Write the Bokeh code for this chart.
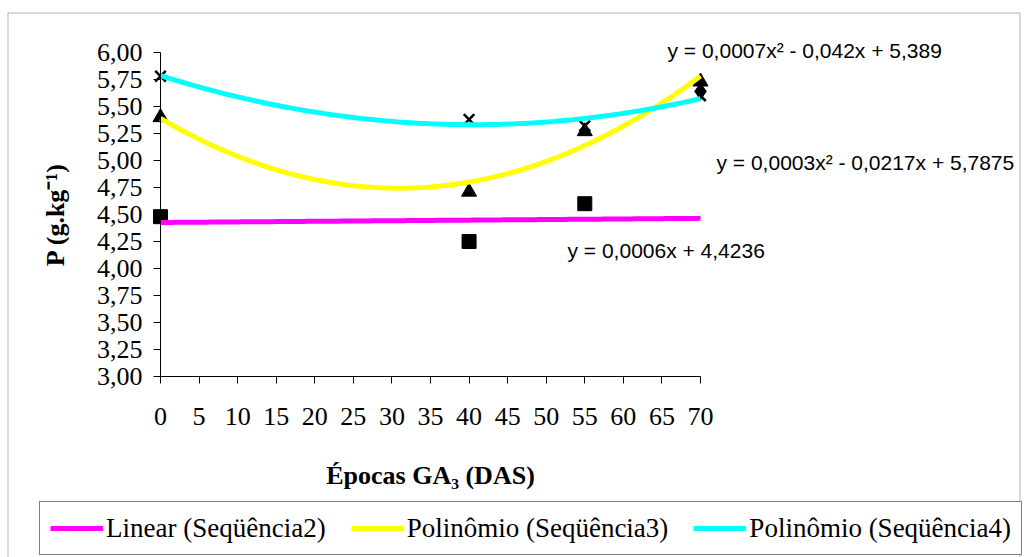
import numpy as np
from bokeh.plotting import figure
from bokeh.models import (Range1d, FixedTicker, Label, Legend, LegendItem,
                          BoxAnnotation)
from bokeh.embed import file_html
from bokeh.resources import INLINE

# ---- data ----
seq1_x = [70]
seq1_y = [5.64]
seq2_x = [0, 40, 55]
seq2_y = [4.48, 4.25, 4.60]
seq3_x = [0, 40, 55, 70]
seq3_y = [5.40, 4.71, 5.27, 5.73]
seq4_x = [0, 40, 55, 70]
seq4_y = [5.78, 5.38, 5.32, 5.60]

x_ticks = [0, 5, 10, 15, 20, 25, 30, 35, 40, 45, 50, 55, 60, 65, 70]
y_ticks = [3.0, 3.25, 3.5, 3.75, 4.0, 4.25, 4.5, 4.75, 5.0, 5.25, 5.5, 5.75, 6.0]
y_tick_labels = ["3,00", "3,25", "3,50", "3,75", "4,00", "4,25", "4,50",
                 "4,75", "5,00", "5,25", "5,50", "5,75", "6,00"]

x_title = "Épocas GA₃ (DAS)"
y_title = "P (g.kg⁻¹)"
eq_lin = "y = 0,0006x + 4,4236"
eq_s3 = "y = 0,0007x² - 0,042x + 5,389"
eq_s4 = "y = 0,0003x² - 0,0217x + 5,7875"
legend_labels = ["Linear (Seqüência2)", "Polinômio (Seqüência3)", "Polinômio (Seqüência4)"]

# ---- trendlines (least squares, like the spreadsheet) ----
xs = np.linspace(0, 70, 141)
lin = np.polyval(np.polyfit(seq2_x, seq2_y, 1), xs)
pol3 = np.polyval(np.polyfit(seq3_x, seq3_y, 2), xs)
pol4 = np.polyval(np.polyfit(seq4_x, seq4_y, 2), xs)

W, H = 1024, 557
X0_PX, X70_PX = 160, 700        # pixel of x=0 and x=70
Y6_PX, Y3_PX = 52, 376          # pixel of y=6 and y=3
px_x = (X70_PX - X0_PX) / 70.0
px_y = (Y3_PX - Y6_PX) / 3.0


def dx(px):
    return (px - X0_PX) / px_x


def dy(py):
    return 6 - (py - Y6_PX) / px_y


p = figure(width=W, height=H, x_range=Range1d(dx(0), dx(W)), y_range=Range1d(dy(H), dy(0)),
           output_backend="svg", toolbar_location=None,
           min_border_left=0, min_border_right=0, min_border_top=0, min_border_bottom=0)
p.grid.visible = False
p.outline_line_color = None
p.background_fill_color = "white"
p.border_fill_color = "white"

serif = "Liberation Serif"

xa = p.xaxis[0]
xa.fixed_location = 3
xa.bounds = (0, 70)
xa.ticker = FixedTicker(ticks=x_ticks, minor_ticks=[])
xa.major_tick_out = 7
xa.major_tick_in = 0
xa.minor_tick_out = 0
xa.minor_tick_in = 0
xa.axis_line_color = "black"
xa.major_tick_line_color = "black"
xa.major_label_text_font = serif
xa.major_label_text_font_size = "26px"
xa.major_label_text_color = "black"
xa.major_label_standoff = 24

ya = p.yaxis[0]
ya.fixed_location = 0
ya.bounds = (3, 6)
ya.ticker = FixedTicker(ticks=y_ticks, minor_ticks=[])
ya.major_label_overrides = {t: l for t, l in zip(y_ticks, y_tick_labels)}
ya.major_tick_out = 7
ya.major_tick_in = 0
ya.minor_tick_out = 0
ya.minor_tick_in = 0
ya.axis_line_color = "black"
ya.major_tick_line_color = "black"
ya.major_label_text_font = serif
ya.major_label_text_font_size = "26px"
ya.major_label_text_color = "black"
ya.major_label_standoff = 11

# axis titles
p.add_layout(Label(x=35, y=dy(475), text=x_title, text_font=serif, text_font_size="26px",
                   text_font_style="bold", text_color="black",
                   text_align="center", text_baseline="alphabetic"))
p.add_layout(Label(x=dx(55), y=4.5, text=y_title, text_font=serif, text_font_size="26px",
                   text_font_style="bold", text_color="black", angle=np.pi / 2,
                   text_align="center", text_baseline="alphabetic"))

# markers
p.scatter(seq2_x, seq2_y, marker="square", size=14, color="black")
p.scatter(seq3_x, seq3_y, marker="triangle", size=15, color="black")
p.scatter(seq4_x, seq4_y, marker="x", size=15, line_color="black", line_width=2.5)
p.scatter(seq1_x, seq1_y, marker="diamond", size=17, color="black")

# trendlines
r_lin = p.line(xs, lin, line_color="#FF00FF", line_width=5)
r_p3 = p.line(xs, pol3, line_color="#FFFF00", line_width=5)
r_p4 = p.line(xs, pol4, line_color="#00FFFF", line_width=5)

# equations
eq_font = "Liberation Sans"
for txt, ex, ey in [(eq_s3, dx(667), dy(50)), (eq_s4, dx(716), dy(162)), (eq_lin, dx(567), dy(250))]:
    p.add_layout(Label(x=ex, y=ey, text=txt, text_font=eq_font, text_font_size="21px",
                       text_color="black", text_baseline="alphabetic", text_align="left"))

# outer chart border
p.add_layout(BoxAnnotation(left=7.5, right=1019.5, top=12.5, bottom=H + 40,
                           left_units="canvas", right_units="canvas",
                           top_units="canvas", bottom_units="canvas",
                           fill_alpha=0, line_color="black", line_width=1))

legend = Legend(items=[LegendItem(label=legend_labels[0], renderers=[r_lin]),
                       LegendItem(label=legend_labels[1], renderers=[r_p3]),
                       LegendItem(label=legend_labels[2], renderers=[r_p4])],
                orientation="horizontal", location=(39, 2))
legend.label_text_font = serif
legend.label_text_font_size = "27px"
legend.label_text_color = "black"
legend.glyph_width = 53
legend.glyph_height = 20
legend.label_height = 32
legend.label_standoff = 3
legend.spacing = 25
legend.padding = 10
legend.margin = 0
legend.border_line_color = "black"
legend.border_line_width = 1
legend.background_fill_color = "white"
legend.background_fill_alpha = 1.0
p.add_layout(legend, "center")

open("out.html", "w").write(file_html(p, INLINE))
